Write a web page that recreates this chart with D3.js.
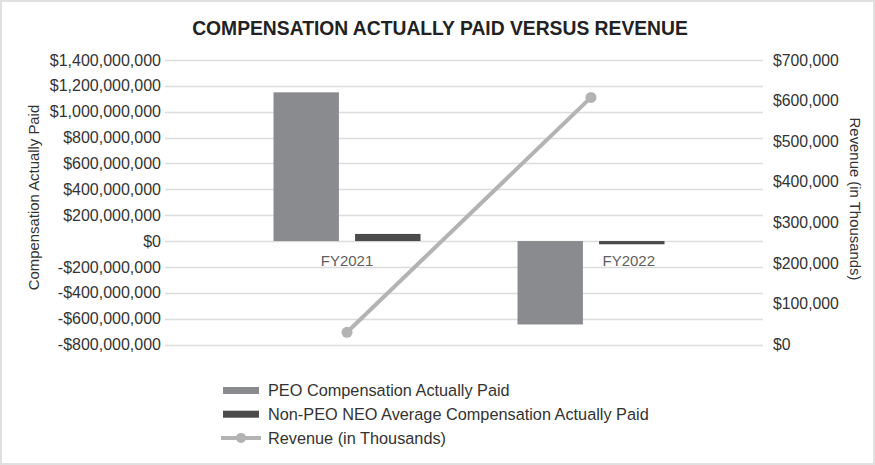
<!DOCTYPE html>
<html><head><meta charset="utf-8">
<script src="https://cdn.jsdelivr.net/npm/d3@7"></script>
<style>
html,body{margin:0;padding:0;background:#fff;}
svg{display:block;font-family:"Liberation Sans",Arial,sans-serif;}
</style></head>
<body>
<svg id="c" width="875" height="465"></svg>
<script>
const categories = ["FY2021", "FY2022"];
const series = ["PEO Compensation Actually Paid", "Non-PEO NEO Average Compensation Actually Paid"];
const peoValues = [1150000000, -645000000];
const nonPeoValues = [55000000, -25000000];
const revenueValues = [30000, 608000];
const revenueName = "Revenue (in Thousands)";
const leftTicks = [-800000000,-600000000,-400000000,-200000000,0,200000000,400000000,600000000,800000000,1000000000,1200000000,1400000000];
const rightTicks = [0,100000,200000,300000,400000,500000,600000,700000];

const svg = d3.select("#c");
const W = 875, H = 465;
svg.append("rect").attr("x",1).attr("y",1).attr("width",W-2).attr("height",H-2)
  .attr("fill","#fff").attr("stroke","#e0e0e0").attr("stroke-width",2);

const plotL = 165, plotR = 763, plotTop = 60, plotBottom = 344.5;
const yL = d3.scaleLinear().domain([-800000000, 1400000000]).range([plotBottom, plotTop]);
const yR = d3.scaleLinear().domain([0, 700000]).range([plotBottom, plotTop]);
const x0 = d3.scaleBand().domain(categories).range([225, 713]);
const x1 = d3.scaleBand().domain(series).range([-73.5, 73.5]).paddingInner(0.198);
const colors = {[series[0]]: "#8a8b8e", [series[1]]: "#4b4b4b"};
const lineColor = "#b3b3b3";
const textColor = "#333";

svg.append("text").attr("x", 440).attr("y", 35).attr("text-anchor","middle")
  .attr("font-size", 19.3).attr("font-weight","bold").attr("fill","#222")
  .text("COMPENSATION ACTUALLY PAID VERSUS REVENUE");

// gridlines
svg.append("g").selectAll("line").data(leftTicks).join("line")
  .attr("x1", plotL).attr("x2", plotR)
  .attr("y1", d => Math.round(yL(d))+0.5).attr("y2", d => Math.round(yL(d))+0.5)
  .attr("stroke", "#dcdcdc").attr("stroke-width", 1.3);

// left axis
const fmtL = d => (d < 0 ? "-$" : "$") + d3.format(",")(Math.abs(d));
const gL = svg.append("g").attr("transform", `translate(${plotL-4},0)`)
  .call(d3.axisLeft(yL).tickValues(leftTicks).tickFormat(fmtL).tickSize(0).tickPadding(0));
gL.select(".domain").remove();
gL.selectAll("text").attr("font-size", 16).attr("fill", textColor)
  .attr("font-family", '"Liberation Sans",Arial,sans-serif');

// right axis
const gR = svg.append("g").attr("transform", `translate(${plotR+10},0)`)
  .call(d3.axisRight(yR).tickValues(rightTicks).tickFormat(d => "$" + d3.format(",")(d)).tickSize(0).tickPadding(0));
gR.select(".domain").remove();
gR.selectAll("text").attr("font-size", 15.8).attr("fill", textColor)
  .attr("font-family", '"Liberation Sans",Arial,sans-serif');

// axis titles
svg.append("text").attr("transform","translate(39,197.5) rotate(-90)").attr("text-anchor","middle")
  .attr("font-size", 14.9).attr("fill", textColor).text("Compensation Actually Paid");
svg.append("text").attr("transform","translate(850,199) rotate(90)").attr("text-anchor","middle")
  .attr("font-size", 14.9).attr("fill", textColor).text("Revenue (in Thousands)");

// bars
const barData = [];
categories.forEach((c, i) => {
  barData.push({c, s: series[0], v: peoValues[i]});
  barData.push({c, s: series[1], v: nonPeoValues[i]});
});
svg.append("g").selectAll("rect").data(barData).join("rect")
  .attr("x", d => x0(d.c) + x0.bandwidth()/2 + x1(d.s))
  .attr("width", x1.bandwidth())
  .attr("y", d => Math.min(yL(d.v), yL(0)))
  .attr("height", d => Math.max(Math.abs(yL(d.v) - yL(0)), 1))
  .attr("fill", d => colors[d.s]);

// category labels
svg.append("g").selectAll("text").data(categories).join("text")
  .attr("x", (c, i) => x0(c) + x0.bandwidth()/2 + (peoValues[i] < 0 ? x1(series[1]) + x1.bandwidth()/2 - 3 : 0))
  .attr("y", 265.5).attr("text-anchor","middle")
  .attr("font-size", 15).attr("fill", "#606060").text(d => d);

// revenue line
const cx = c => x0(c) + x0.bandwidth()/2;
const line = d3.line().x((d,i) => cx(categories[i])).y(d => yR(d));
svg.append("path").datum(revenueValues).attr("d", line)
  .attr("fill","none").attr("stroke", lineColor).attr("stroke-width", 4);
svg.append("g").selectAll("circle").data(revenueValues).join("circle")
  .attr("cx", (d,i) => cx(categories[i])).attr("cy", d => yR(d)).attr("r", 5.5)
  .attr("fill", lineColor);

// legend
const leg = svg.append("g");
const rows = [{n: series[0], t: "bar", col: colors[series[0]]},
              {n: series[1], t: "bar", col: colors[series[1]]},
              {n: revenueName, t: "line", col: lineColor}];
rows.forEach((r, i) => {
  const y = 390.5 + i * 23.7;
  if (r.t === "bar") {
    leg.append("rect").attr("x", 223).attr("y", y - 3.5).attr("width", 36).attr("height", 7).attr("fill", r.col);
  } else {
    leg.append("line").attr("x1", 221).attr("x2", 261).attr("y1", y).attr("y2", y)
      .attr("stroke", r.col).attr("stroke-width", 4);
    leg.append("circle").attr("cx", 241).attr("cy", y).attr("r", 5).attr("fill", r.col);
  }
  leg.append("text").attr("x", 268).attr("y", y).attr("dy", "0.35em")
    .attr("font-size", 16.3).attr("fill", textColor).text(r.n);
});
</script>
</body></html>
